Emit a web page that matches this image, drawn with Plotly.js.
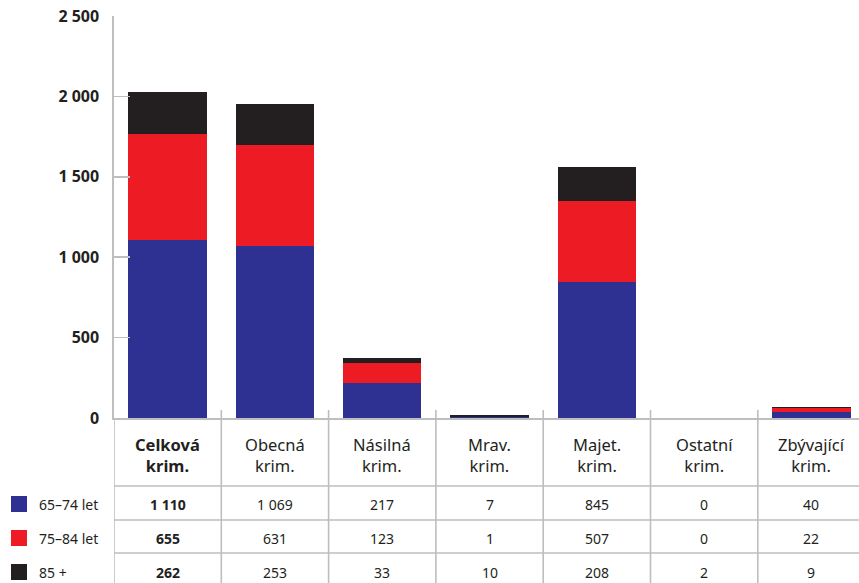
<!DOCTYPE html>
<html>
<head>
<meta charset="utf-8">
<script src="https://cdn.plot.ly/plotly-3.0.1.min.js"></script>
<style>html,body{margin:0;padding:0;background:#fff;}#chart{width:859px;height:583px;}</style>
</head>
<body>
<div id="chart"></div>
<script>
// ---- data ----
const categories = ["Celková krim.", "Obecná krim.", "Násilná krim.", "Mrav. krim.", "Majet. krim.", "Ostatní krim.", "Zbývající krim."];
const seriesNames = ["65–74 let", "75–84 let", "85 +"];
const age65_74 = [1110, 1069, 217, 7, 845, 0, 40];
const age75_84 = [655, 631, 123, 1, 507, 0, 22];
const age85plus = [262, 253, 33, 10, 208, 2, 9];
const yTickVals = [0, 500, 1000, 1500, 2000, 2500];

// ---- styling ----
const colors = ["#2E3192", "#ED1C24", "#231F20"];
const gridColor = "#BCBEC0";
const textColor = "#231F20";
const FONT = "Noto Sans, Open Sans, sans-serif";

const W = 859, H = 583;
const mL = 114, mR = 0, mT = 16, mB = 165;
const plotW = W - mL - mR, plotH = H - mT - mB;
const py = p => (H - mB - p) / plotH;      // pixel y -> paper y
const px = p => (p - mL) / plotW;          // pixel x -> paper x

const series = [age65_74, age75_84, age85plus];
const fmt = n => String(n).replace(/\B(?=(\d{3})+(?!\d))/g, " ");

const xIdx = categories.map((c, i) => i);
const traces = series.map((vals, s) => ({
  type: "bar",
  x: xIdx,
  y: vals,
  name: seriesNames[s],
  marker: { color: colors[s], line: { width: 0 } },
  hoverinfo: "skip",
  showlegend: false
}));

const shapes = [];
const annotations = [];
const lineStyle = { color: gridColor, width: 1.6 };

// vertical dividers
for (let i = 0; i < categories.length; i++) {
  const xv = i - 0.5;
  shapes.push({ type: "line", xref: "x", yref: "paper", x0: xv, x1: xv,
    y0: i === 0 ? 0 : py(410), y1: -0.5, line: lineStyle, layer: "above" });
}
// horizontal table lines
[486, 520, 553].forEach(yp => {
  shapes.push({ type: "line", xref: "paper", yref: "paper", x0: 0, x1: 1.02,
    y0: py(yp), y1: py(yp), line: lineStyle });
});

// header cells
categories.forEach((c, i) => {
  const t = c.split(" ").join("<br>");
  annotations.push({ xref: "x", yref: "paper", x: i, y: py(455),
    text: i === 0 ? "<b>" + t + "</b>" : t, showarrow: false,
    xanchor: "center", yanchor: "middle",
    font: { family: FONT, size: 16.5, color: textColor } });
});

// data rows + legend
const rowY = [504, 538, 572];
series.forEach((vals, s) => {
  vals.forEach((v, i) => {
    annotations.push({ xref: "x", yref: "paper", x: i, y: py(rowY[s]),
      text: i === 0 ? "<b>" + fmt(v) + "</b>" : fmt(v), showarrow: false,
      xanchor: "center", yanchor: "middle",
      font: { family: FONT, size: 14, color: textColor } });
  });
  shapes.push({ type: "rect", xref: "paper", yref: "paper",
    x0: px(11), x1: px(27), y0: py(rowY[s] - 8), y1: py(rowY[s] + 8),
    fillcolor: colors[s], line: { width: 0 } });
  annotations.push({ xref: "paper", yref: "paper", x: px(37), y: py(rowY[s]),
    text: seriesNames[s], showarrow: false, xanchor: "left", yanchor: "middle",
    font: { family: FONT, size: 14, color: textColor } });
});

const layout = {
  width: W, height: H,
  margin: { l: mL, r: mR, t: mT, b: mB, pad: 0 },
  paper_bgcolor: "#fff", plot_bgcolor: "#fff",
  barmode: "stack",
  bargap: 0.27,
  separators: ", ",
  showlegend: false,
  xaxis: {
    range: [-0.5, -0.5 + plotW / 107.3],
    showticklabels: false, ticks: "", showgrid: false, zeroline: false,
    showline: true, linecolor: gridColor, linewidth: 1.6, fixedrange: true
  },
  yaxis: {
    range: [0, 2500], tickvals: yTickVals, separatethousands: true,
    showgrid: false, zeroline: false,
    showline: true, linecolor: gridColor, linewidth: 1.6,
    ticks: "inside", ticklen: 16, tickcolor: gridColor, tickwidth: 1.6,
    ticklabelstandoff: 10,
    tickfont: { family: FONT, size: 16, color: textColor, weight: "bold" },
    fixedrange: true
  },
  shapes: shapes,
  annotations: annotations,
  font: { family: FONT, color: textColor }
};

Plotly.newPlot("chart", traces, layout, { displayModeBar: false, staticPlot: true });
</script>
</body>
</html>
